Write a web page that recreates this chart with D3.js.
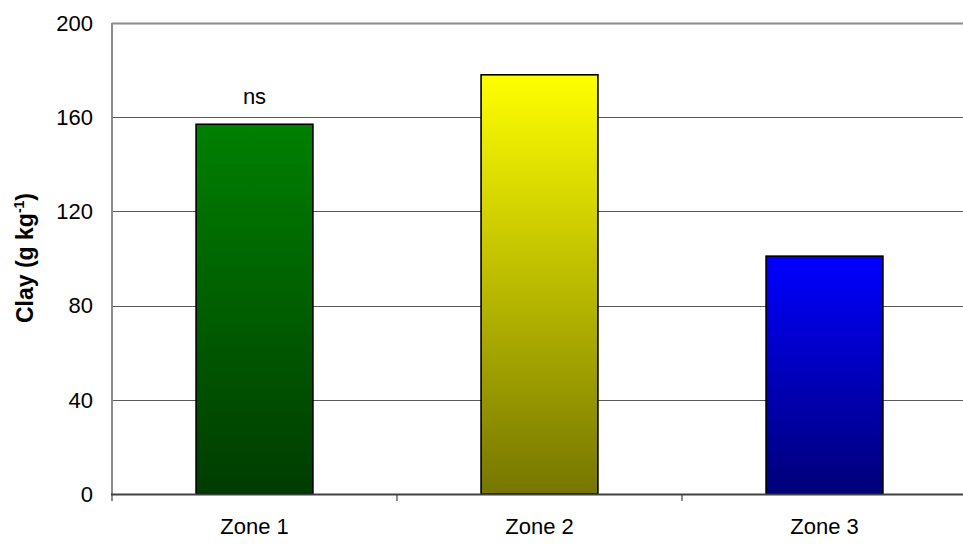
<!DOCTYPE html>
<html><head><meta charset="utf-8">
<script src="https://cdn.jsdelivr.net/npm/d3@7"></script>
<style>body{margin:0;background:#fff;}svg{display:block;font-family:"Liberation Sans",Arial,sans-serif;}</style>
</head><body>
<svg id="c" width="963" height="544"></svg>
<script>
const categories = ["Zone 1", "Zone 2", "Zone 3"];
const values = [157, 178, 101];
const topColors = ["#008000", "#ffff00", "#0000ff"];
const bottomColors = ["#003c00", "#767600", "#000078"];
const yTicks = [0, 40, 80, 120, 160, 200];
const annotations = ["ns", "", ""];

const svg = d3.select("#c");
const m = {l: 112, t: 23, b: 494, r: 967};
const x = d3.scaleBand().domain(categories).range([m.l, m.r]).paddingInner(0.59).paddingOuter(0.295);
const xb = d3.scaleBand().domain(categories).range([m.l, m.r]);
const y = d3.scaleLinear().domain([0, 200]).range([m.b, m.t]);

const defs = svg.append("defs");
categories.forEach((c, i) => {
  const g = defs.append("linearGradient").attr("id", "g" + i).attr("x1", 0).attr("y1", 0).attr("x2", 0).attr("y2", 1);
  g.append("stop").attr("offset", "0%").attr("stop-color", topColors[i]);
  g.append("stop").attr("offset", "100%").attr("stop-color", bottomColors[i]);
});

// gridlines
svg.append("g").selectAll("line").data(yTicks.filter(d => d > 0)).join("line")
  .attr("x1", m.l).attr("x2", m.r).attr("y1", d => Math.round(y(d)) + 0.5).attr("y2", d => Math.round(y(d)) + 0.5)
  .attr("stroke", d => d === 200 ? "#8c8c8c" : "#5a5a5a").attr("stroke-width", d => d === 200 ? 2 : 1);

// left axis line
svg.append("line").attr("x1", m.l).attr("x2", m.l).attr("y1", m.t).attr("y2", m.b)
  .attr("stroke", "#8c8c8c").attr("stroke-width", 2);

// y tick labels
svg.append("g").selectAll("text").data(yTicks).join("text")
  .attr("x", 93).attr("y", d => y(d)).attr("dy", "0.35em").attr("text-anchor", "end")
  .attr("font-size", 22).attr("fill", "#000").text(d => d);

// bars
svg.append("g").selectAll("rect").data(values).join("rect")
  .attr("x", (d, i) => x(categories[i]))
  .attr("width", x.bandwidth())
  .attr("y", d => y(d))
  .attr("height", d => y(0) - y(d))
  .attr("fill", (d, i) => "url(#g" + i + ")")
  .attr("stroke", "#000").attr("stroke-width", 1.6);

// x axis
const xa = svg.append("g");
xa.append("line").attr("x1", m.l - 1).attr("x2", m.r).attr("y1", m.b + 0.5).attr("y2", m.b + 0.5)
  .attr("stroke", "#404040").attr("stroke-width", 2);
const tickPos = [m.l].concat(categories.map(c => xb(c) + xb.bandwidth()));
xa.selectAll("line.t").data(tickPos).join("line").attr("class", "t")
  .attr("x1", d => d).attr("x2", d => d).attr("y1", m.b).attr("y2", m.b + 7)
  .attr("stroke", "#404040").attr("stroke-width", 1.2);
xa.selectAll("text").data(categories).join("text")
  .attr("x", d => xb(d) + xb.bandwidth() / 2).attr("y", 526.5).attr("dy", "0.35em")
  .attr("text-anchor", "middle").attr("font-size", 22).attr("fill", "#000").text(d => d);

// annotations
svg.append("g").selectAll("text").data(annotations).join("text")
  .attr("x", (d, i) => x(categories[i]) + x.bandwidth() / 2)
  .attr("y", (d, i) => y(values[i]) - 28).attr("dy", "0.35em")
  .attr("text-anchor", "middle").attr("font-size", 22).attr("fill", "#000").text(d => d);

// y title
const t = svg.append("text").attr("transform", "translate(33," + 258 + ") rotate(-90)")
  .attr("text-anchor", "middle").attr("font-size", 23).attr("font-weight", "bold").attr("fill", "#000");
t.append("tspan").text("Clay (g kg");
t.append("tspan").attr("font-size", 14).attr("dy", -9).text("-1");
t.append("tspan").attr("dy", 9).text(")");
</script>
</body></html>
